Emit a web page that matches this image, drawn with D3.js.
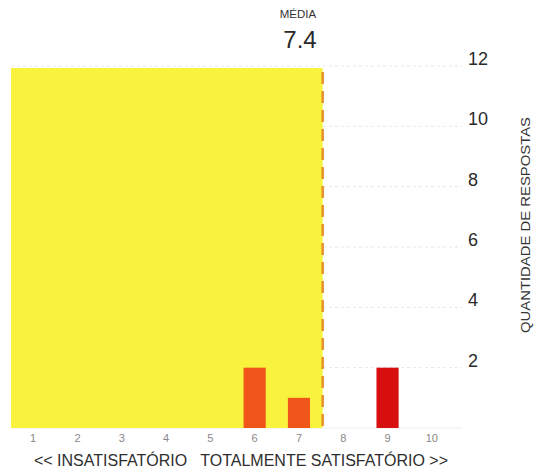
<!DOCTYPE html>
<html><head><meta charset="utf-8">
<script src="https://cdn.jsdelivr.net/npm/d3@7"></script>
<style>
body{margin:0;background:#fff;}
svg{display:block;font-family:"Liberation Sans",Arial,sans-serif;}
</style></head>
<body><svg id="c" width="536" height="473"></svg>
<script>
const categories = [1,2,3,4,5,6,7,8,9,10];
const counts = [0,0,0,0,0,2,1,0,2,0];
const barColors = ["#f0561a","#f0561a","#f0561a","#f0561a","#f0561a","#f0561a","#f0561a","#e01010","#d80f0f","#d80f0f"];
const yTicks = [2,4,6,8,10,12];
const meanValue = 7.4;
const meanLabel = "MÉDIA";
const yTitle = "QUANTIDADE DE RESPOSTAS";
const xTitle = "<< INSATISFATÓRIO   TOTALMENTE SATISFATÓRIO >>";

(function(){
const svg = d3.select("#c");
const pLeft = 11, pRight = 454, pTop = 66, pBottom = 428;

const x = d3.scaleBand().domain(categories).range([pLeft, pRight]).paddingInner(0.5).paddingOuter(0.25);
const xLin = d3.scaleLinear().domain([0.5, 10.5]).range([pLeft, pRight]);
const y = d3.scaleLinear().domain([0, 12]).range([pBottom, pTop]);

svg.append("g").selectAll("line").data(yTicks).join("line")
  .attr("x1", pLeft).attr("x2", 462)
  .attr("y1", d => y(d)).attr("y2", d => y(d))
  .attr("stroke", "#e6e6e6").attr("stroke-width", 1).attr("stroke-dasharray", "3,3");

svg.append("line").attr("x1", pLeft).attr("x2", 462).attr("y1", y(0)).attr("y2", y(0))
  .attr("stroke", "#eee").attr("stroke-width", 1);

const mx = xLin(meanValue) + 6;
svg.append("rect")
  .attr("x", xLin(0.5)).attr("y", y(12) + 2)
  .attr("width", mx - xLin(0.5))
  .attr("height", y(0) - y(12) - 2)
  .attr("fill", "#faf33e");

svg.append("g").selectAll("rect").data(categories).join("rect")
  .attr("x", d => x(d)).attr("width", x.bandwidth())
  .attr("y", (d,i) => y(counts[i])).attr("height", (d,i) => y(0) - y(counts[i]))
  .attr("fill", (d,i) => barColors[i]);

svg.append("line").attr("x1", mx).attr("x2", mx).attr("y1", y(12) + 6).attr("y2", y(0))
  .attr("stroke", "#e8902a").attr("stroke-width", 2.5).attr("stroke-dasharray", "12,7");

svg.append("g").selectAll("text").data(yTicks).join("text")
  .attr("x", 468).attr("y", d => y(d) - 1)
  .attr("fill", "#2a2a2a").attr("font-size", 18).attr("text-anchor", "start")
  .text(d => d);

svg.append("text").attr("transform", "translate(530,225) rotate(-90)")
  .attr("text-anchor", "middle").attr("font-size", 13).attr("fill", "#333")
  .attr("textLength", 216).attr("lengthAdjust", "spacingAndGlyphs")
  .text(yTitle);

svg.append("g").selectAll("text").data(categories).join("text")
  .attr("x", d => x(d) + x.bandwidth()/2).attr("y", 442)
  .attr("text-anchor", "middle").attr("font-size", 11).attr("fill", "#888")
  .text(d => d);

svg.append("text").attr("x", 241).attr("y", 466).attr("text-anchor", "middle")
  .attr("font-size", 16).attr("fill", "#2e2e2e").style("white-space","pre").text(xTitle);

svg.append("text").attr("x", 298).attr("y", 18).attr("text-anchor", "middle")
  .attr("font-size", 11.5).attr("fill", "#333").text(meanLabel);
svg.append("text").attr("x", 300).attr("y", 48).attr("text-anchor", "middle")
  .attr("font-size", 24).attr("fill", "#2a2a2a").text(meanValue.toFixed(1));
})();
</script></body></html>
